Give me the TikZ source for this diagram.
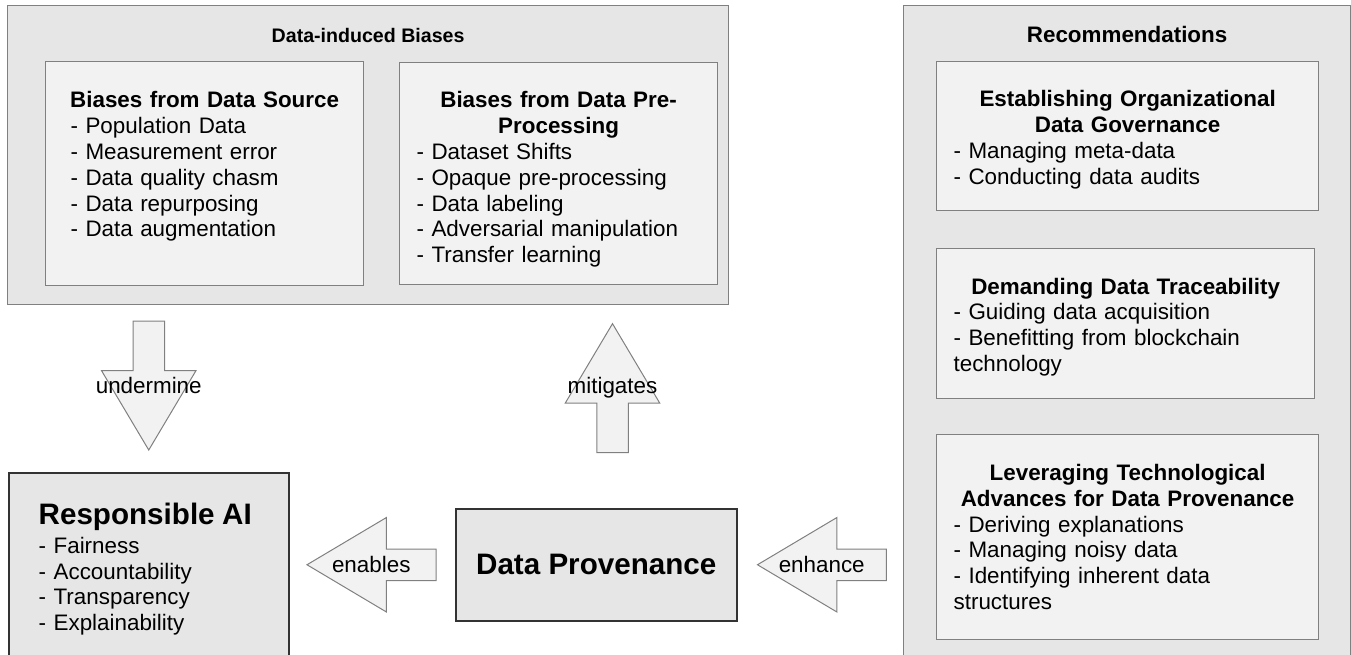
\documentclass[tikz,border=0pt]{standalone}
\usepackage{fontspec}
\setmainfont{Liberation Sans}
\usetikzlibrary{shapes.arrows, positioning, calc}
\definecolor{gray90}{HTML}{E6E6E6}
\definecolor{gray95}{HTML}{F2F2F2}
\definecolor{gray50}{HTML}{808080}
\definecolor{gray20}{HTML}{333333}
\newcommand{\hd}{\textbf}
\newcommand{\sz}{\fontsize{22.4}{25.8}\selectfont}
\newcommand{\bigsz}{\fontsize{29.6}{34}\selectfont}

\begin{document}
\begin{tikzpicture}[x=1pt, y=-1pt,
  group/.style  = {draw=gray50, fill=gray90, line width=1.2pt, anchor=north west, inner sep=0pt},
  sub/.style    = {draw=gray50, fill=gray95, line width=1.2pt, anchor=north west, inner sep=0pt},
  main/.style   = {draw=gray20, fill=gray90, line width=1.5pt, anchor=north west, inner sep=0pt},
  txt/.style    = {font=\sz, inner sep=0pt, align=left},
  lbl/.style    = {font=\sz, inner sep=0pt},
  barrow/.style = {single arrow, draw=gray50, fill=gray95, line width=1pt, inner sep=15.25pt,
                   minimum height=129pt, single arrow head extend=31.5pt,
                   single arrow tip angle=61.5, single arrow head indent=0pt}]

\useasboundingbox (0,0) rectangle (1351,655);
\clip (0,0) rectangle (1351,655);

% the two groups
\node[group, minimum width=721pt, minimum height=299pt] (b) at (7,5) {};
\node[group, minimum width=447pt, minimum height=700pt] (r) at (903,5) {};
\node[lbl, font=\fontsize{19.6}{24}\selectfont\bfseries, below=37.5pt of b.north, anchor=base] (bt) {Data-induced Biases};
\node[lbl, font=\sz\bfseries, below=37.5pt of r.north, anchor=base] (rt) {Recommendations};

% boxes inside the groups
\node[sub, minimum width=318pt, minimum height=224pt] (b1) at (45,61) {};
\node[sub, minimum width=318pt, minimum height=222pt] (b2) at (399,62) {};
\node[sub, minimum width=382pt, minimum height=149pt] (r1) at (936,61) {};
\node[sub, minimum width=378pt, minimum height=150pt] (r2) at (936,248) {};
\node[sub, minimum width=382pt, minimum height=205pt] (r3) at (936,434) {};

\node[txt, text width=268pt, below=47pt of b1.north, anchor=base] (b1t)
  {\makebox[\linewidth]{\hd{Biases from Data Source}}\\ - Population Data\\ - Measurement error\\
   - Data quality chasm\\ - Data repurposing\\ - Data augmentation};
\node[txt, text width=284pt, below=46pt of b2.north, anchor=base] (b2t)
  {\makebox[\linewidth]{\hd{Biases from Data Pre-}}\\ \makebox[\linewidth]{\hd{Processing}}\\
   - Dataset Shifts\\ - Opaque pre-processing\\ - Data labeling\\ - Adversarial manipulation\\
   - Transfer learning};
\node[txt, text width=348pt, below=46pt of r1.north, anchor=base] (r1t)
  {\makebox[\linewidth]{\hd{Establishing Organizational}}\\ \makebox[\linewidth]{\hd{Data Governance}}\\
   - Managing meta-data\\ - Conducting data audits};
\node[txt, text width=344pt, below=46pt of r2.north, anchor=base] (r2t)
  {\makebox[\linewidth]{\hd{Demanding Data Traceability}}\\ - Guiding data acquisition\\
   - Benefitting from blockchain\\ technology};
\node[txt, text width=348pt, below=46.5pt of r3.north, anchor=base] (r3t)
  {\makebox[\linewidth]{\hd{Leveraging Technological}}\\ \makebox[\linewidth]{\hd{Advances for Data Provenance}}\\
   - Deriving explanations\\ - Managing noisy data\\ - Identifying inherent data\\ structures};

% main boxes
\node[main, minimum width=280pt, minimum height=250pt] (rai) at (8,472) {};
\node[txt, text width=240pt, anchor=base west] (rait) at ($(rai.north west)+(30.5,52)$)
  {{\bigsz\bfseries Responsible AI}\\[3.5pt] - Fairness\\ - Accountability\\ - Transparency\\ - Explainability};
\node[main, minimum width=281pt, minimum height=112pt, font=\bigsz\bfseries] (dp) at (455,508) {Data Provenance};

% block arrows between the boxes
\node[barrow, shape border rotate=270, above=21pt of rai.north, anchor=tip] (a1) {};
\node[barrow, shape border rotate=90, anchor=tip] (a2) at (612.5,322.7) {};
\node[barrow, shape border rotate=180, left=18.5pt of dp.west, anchor=tail] (a3) {};
\node[barrow, shape border rotate=180, right=19pt of dp.east, anchor=tip] (a4) {};

\node[lbl] (l1) at ($(a1.tip)!0.5!(a1.tail)$) {undermine};
\node[lbl] (l2) at ($(a2.tip)!0.5!(a2.tail)$) {mitigates};
\node[lbl] (l3) at ($(a3.tip)!0.5!(a3.tail)$) {enables};
\node[lbl] (l4) at ($(a4.tip)!0.5!(a4.tail)$) {enhance};

\end{tikzpicture}
\end{document}
